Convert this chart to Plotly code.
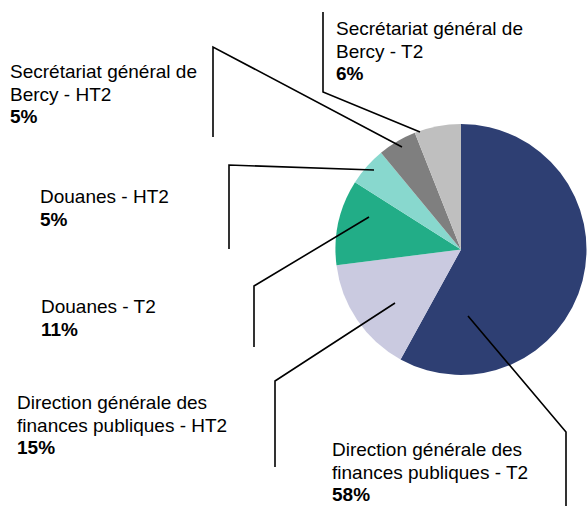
import plotly.graph_objects as go

W, H = 587, 506

# slices, clockwise from 12 o'clock
labels = [
    "Direction générale des<br>finances publiques - T2",
    "Direction générale des<br>finances publiques - HT2",
    "Douanes - T2",
    "Douanes - HT2",
    "Secrétariat général de<br>Bercy - HT2",
    "Secrétariat général de<br>Bercy - T2",
]
values = [58, 15, 11, 5, 5, 6]
colors = ["#2E3F73", "#CACAE0", "#22AD87", "#88D8CE", "#7F7F7F", "#BFBFBF"]

# label anchors (left x, first baseline y in px) and leader polylines in px
label_pos = [(331, 456), (16, 409), (40, 313), (39, 203), (9, 78), (335, 35)]
leaders = [
    [(468, 316), (566, 432), (566, 506)],
    [(395, 303), (275, 381), (275, 467)],
    [(369, 217), (254, 286), (254, 347)],
    [(374, 170), (229, 165), (229, 249)],
    [(402, 147), (213, 47), (213, 137)],
    [(420, 132), (323, 92), (323, 12)],
]

FONT = "Arial, Liberation Sans, sans-serif"
FS = 19
PITCH = 22.6


def px(x, y):
    return x / W, 1 - y / H


fig = go.Figure(go.Pie(
    labels=labels, values=values, sort=False, direction="clockwise", rotation=0,
    marker=dict(colors=colors, line=dict(color="white", width=0)),
    textinfo="none", hoverinfo="label+percent",
    domain=dict(x=[335 / W, 1.0], y=[131 / H, 382 / H]),
    showlegend=False,
))

total = sum(values)
for lab, v, (lx, ly) in zip(labels, values, label_pos):
    lines = lab.split("<br>") + [f"<b>{round(100 * v / total)}%</b>"]
    for i, line in enumerate(lines):
        x, y = px(lx, ly + i * PITCH - 0.33 * FS)
        fig.add_annotation(
            x=x, y=y, xref="paper", yref="paper", xanchor="left", yanchor="middle",
            text=line, showarrow=False, borderpad=0,
            font=dict(family=FONT, size=FS, color="#000000"),
        )

for pts in leaders:
    path = "M " + " L ".join(f"{px(*p)[0]},{px(*p)[1]}" for p in pts)
    fig.add_shape(type="path", path=path, xref="paper", yref="paper",
                  line=dict(color="black", width=1.6))

fig.update_layout(
    width=W, height=H, margin=dict(l=0, r=0, t=0, b=0),
    paper_bgcolor="white", plot_bgcolor="white",
    font=dict(family=FONT),
)
fig.write_html("out.html", config={"displayModeBar": False},
               post_script="document.body.style.margin='0';")
